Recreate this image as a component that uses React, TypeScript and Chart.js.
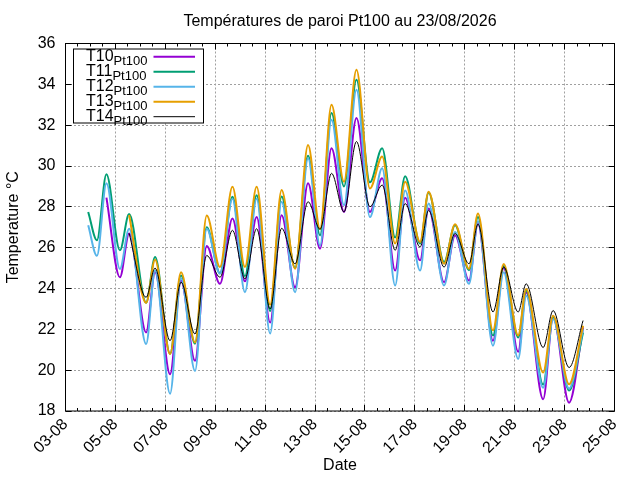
import { useEffect, useRef } from 'react';
import { Chart, registerables } from 'chart.js';

Chart.register(...registerables);

// time axis: days since 03-08 00:00, one point per daily min / max
const times = [
  0.91, 1.26, 1.64, 2.18, 2.55, 3.23, 3.59, 4.19, 4.63, 5.19,
  5.66, 6.19, 6.69, 7.19, 7.66, 8.2, 8.66, 9.2, 9.72, 10.2,
  10.66, 11.16, 11.66, 12.2, 12.69, 13.21, 13.61, 14.21, 14.55, 15.17,
  15.61, 16.17, 16.53, 17.13, 17.56, 18.14, 18.46, 19.14, 19.54, 20.18,
  20.74,
];

const t10 = [
  null, null, 28.45, 24.55, 26.69, 21.85, 24.8, 19.8, 24.39, 20.46,
  26.08, 24.23, 27.43, 24.35, 27.5, 22.34, 27.59, 24.06, 29.15, 25.95,
  30.87, 27.75, 32.35, 27.75, 29.4, 24.88, 28.45, 25.38, 27.92, 24.31,
  26.6, 24.39, 27.2, 21.44, 25.0, 20.9, 23.8, 18.57, 22.6, 18.41,
  22.1,
];
const t11 = [
  27.75, 26.36, 29.6, 25.87, 27.65, 23.3, 25.54, 20.8, 24.64, 21.3,
  27.0, 24.75, 28.5, 24.6, 28.57, 22.9, 28.5, 25.0, 30.5, 26.6,
  32.6, 29.0, 34.23, 29.2, 30.87, 26.5, 29.5, 26.2, 28.7, 25.3,
  27.1, 24.9, 27.5, 21.7, 25.1, 21.6, 23.9, 19.3, 22.6, 19.0,
  21.85,
];
const t12 = [
  27.1, 25.6, 29.15, 24.96, 26.93, 21.28, 24.88, 18.85, 24.5, 19.96,
  26.93, 24.72, 28.4, 23.82, 28.4, 21.8, 28.25, 23.82, 30.38, 26.1,
  32.26, 28.08, 33.74, 27.5, 29.89, 24.15, 28.8, 24.88, 28.16, 24.15,
  26.77, 24.23, 27.3, 21.2, 24.8, 20.55, 23.65, 19.14, 22.5, 19.1,
  22.0,
];
const t13 = [
  null, null, null, null, 27.6, 23.3, 25.41, 20.79, 24.8, 21.36,
  27.57, 25.05, 28.98, 25.05, 28.98, 23.2, 28.82, 24.97, 31.03, 26.9,
  33.0, 29.23, 34.72, 28.9, 30.46, 26.2, 29.23, 26.28, 28.74, 25.21,
  27.15, 24.97, 27.67, 21.95, 25.2, 21.7, 23.98, 19.88, 22.67, 19.31,
  22.18,
];
const t14 = [
  null, null, null, null, 26.7, 23.57, 25.0, 21.44, 24.31, 21.77,
  25.62, 24.55, 26.85, 24.47, 26.93, 23.0, 26.95, 25.21, 28.25, 26.9,
  29.64, 27.75, 31.2, 28.0, 29.07, 25.87, 28.16, 26.03, 27.83, 25.05,
  26.69, 25.21, 27.15, 22.85, 25.05, 22.85, 24.23, 21.11, 22.92, 20.13,
  22.43,
];

const seriesNames = ['T10', 'T11', 'T12', 'T13', 'T14'];
const seriesSub = 'Pt100';
const seriesValues = [t10, t11, t12, t13, t14];
const seriesColors = ['#9400d3', '#009e73', '#56b4e9', '#e69f00', '#000000'];
const seriesWidths = [2, 2, 2, 2, 1];

const dateLabels = [
  '03-08', '05-08', '07-08', '09-08', '11-08', '13-08',
  '15-08', '17-08', '19-08', '21-08', '23-08', '25-08',
];

const FONT = '"Liberation Sans", Arial, sans-serif';

const framePlugin = {
  id: 'gnuplotFrame',
  afterDatasetsDraw(chart: any) {
    const { ctx, chartArea: a, scales } = chart;
    const xs = scales.x;
    const ys = scales.y;
    const snap = (v: number) => Math.floor(v) + 0.5;
    ctx.save();
    ctx.strokeStyle = '#000';
    ctx.lineWidth = 1;
    ctx.beginPath();
    const nMinor = Math.round((xs.max - xs.min) / 0.5);
    for (let i = 0; i <= nMinor; i++) {
      const px = snap(xs.getPixelForValue(xs.min + i * 0.5));
      const len = i % 4 === 0 ? 6 : 3;
      ctx.moveTo(px, a.bottom);
      ctx.lineTo(px, a.bottom - len);
      ctx.moveTo(px, a.top);
      ctx.lineTo(px, a.top + len);
    }
    for (let v = ys.min; v <= ys.max; v += 2) {
      const py = snap(ys.getPixelForValue(v));
      ctx.moveTo(a.left, py);
      ctx.lineTo(a.left + 6, py);
      ctx.moveTo(a.right, py);
      ctx.lineTo(a.right - 6, py);
    }
    ctx.stroke();
    ctx.strokeRect(a.left, a.top, a.right - a.left, a.bottom - a.top);

    // key box
    const left = a.left + 8;
    const top = a.top + 5.5;
    ctx.fillStyle = '#fff';
    ctx.fillRect(left, top, 130, 74);
    ctx.strokeRect(left, top, 130, 74);
    chart.data.datasets.forEach((ds: any, i: number) => {
      const rowY = top + 7.7 + 15 * i;
      ctx.fillStyle = '#000';
      ctx.textAlign = 'left';
      ctx.textBaseline = 'alphabetic';
      ctx.font = `16px ${FONT}`;
      ctx.fillText(ds.label, left + 12.5, rowY + 4.5);
      const w = ctx.measureText(ds.label).width;
      ctx.font = `13px ${FONT}`;
      ctx.fillText(seriesSub, left + 12.5 + w, rowY + 7.8);
      ctx.strokeStyle = ds.borderColor;
      ctx.lineWidth = ds.borderWidth;
      ctx.beginPath();
      ctx.moveTo(left + 80, rowY);
      ctx.lineTo(left + 121.5, rowY);
      ctx.stroke();
      ctx.strokeStyle = '#000';
      ctx.lineWidth = 1;
    });
    ctx.restore();
  },
};

export default function App() {
  const canvasRef = useRef<HTMLCanvasElement>(null);
  const chartRef = useRef<Chart | null>(null);

  useEffect(() => {
    if (!canvasRef.current) return;
    if (chartRef.current) chartRef.current.destroy();

    chartRef.current = new Chart(canvasRef.current, {
      type: 'line',
      data: {
        datasets: seriesNames.map((name, i) => ({
          label: name,
          data: times.map((t, j) => ({ x: t, y: seriesValues[i][j] })),
          borderColor: seriesColors[i],
          backgroundColor: seriesColors[i],
          borderWidth: seriesWidths[i],
          pointRadius: 0,
          fill: false,
          cubicInterpolationMode: 'monotone',
          spanGaps: false,
          order: seriesNames.length - i,
        })),
      },
      options: {
        animation: false,
        responsive: true,
        maintainAspectRatio: false,
        events: [],
        layout: { padding: { left: 0, right: 25.5, top: 0, bottom: 0 } },
        plugins: {
          legend: { display: false },
          tooltip: { enabled: false },
          title: {
            display: true,
            text: 'Températures de paroi Pt100 au 23/08/2026',
            color: '#000',
            fullSize: false,
            font: { family: FONT, size: 16, weight: 'normal' },
            padding: { top: 12.2, bottom: 12.1 },
          },
        },
        scales: {
          x: {
            type: 'linear',
            min: 0,
            max: 22,
            afterFit: (s: any) => { s.height = 69; },
            ticks: {
              stepSize: 2,
              autoSkip: false,
              minRotation: 45,
              maxRotation: 45,
              padding: 4,
              color: '#000',
              font: { family: FONT, size: 16 },
              callback: (_v: any, idx: number) => dateLabels[idx],
            },
            grid: { color: '#a0a0a0', lineWidth: 1, drawTicks: false },
            border: { display: false, dash: [2, 2] },
            title: {
              display: true,
              text: 'Date',
              color: '#000',
              font: { family: FONT, size: 16 },
              padding: { top: 0, bottom: 4.4 },
            },
          },
          y: {
            min: 18,
            max: 36,
            afterFit: (s: any) => { s.width = 65.5; },
            ticks: {
              stepSize: 2,
              padding: 10,
              color: '#000',
              font: { family: FONT, size: 16 },
            },
            grid: { color: '#a0a0a0', lineWidth: 1, drawTicks: false },
            border: { display: false, dash: [2, 2] },
            title: {
              display: true,
              text: 'Temperature °C',
              color: '#000',
              font: { family: FONT, size: 16 },
              padding: { top: 3.5, bottom: 0 },
            },
          },
        },
      },
      plugins: [framePlugin],
    } as any);

    return () => {
      if (chartRef.current) {
        chartRef.current.destroy();
        chartRef.current = null;
      }
    };
  }, []);

  return (
    <div style={{ position: 'absolute', left: 0, top: 0, width: 640, height: 480, background: '#fff' }}>
      <canvas ref={canvasRef}></canvas>
    </div>
  );
}
